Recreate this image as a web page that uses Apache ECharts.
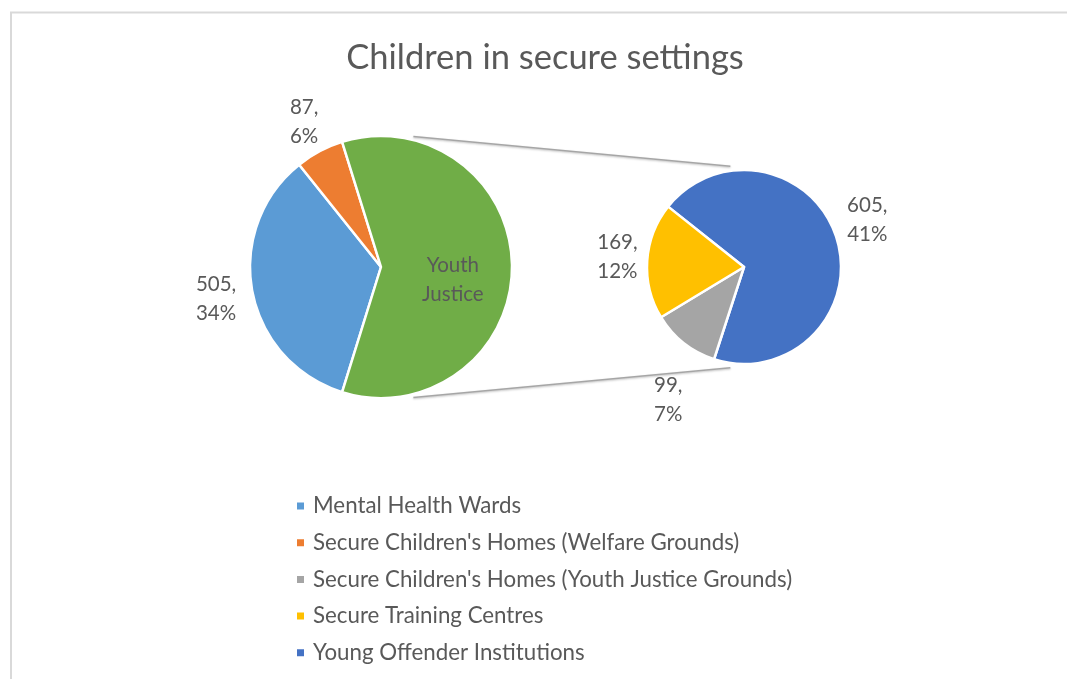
<!DOCTYPE html>
<html><head><meta charset="utf-8">
<script src="https://cdn.jsdelivr.net/npm/echarts@6/dist/echarts.min.js"></script>
<style>html,body{margin:0;padding:0;background:#fff}#c{width:1067px;height:679px}</style>
</head><body><div id="c"></div>
<script>
// ---- data ----
const titleText = 'Children in secure settings';
const mainCategories = ['Mental Health Wards', "Secure Children's Homes (Welfare Grounds)"];
const mainValues = [505, 87];
const otherLabel = 'Youth Justice';
const subCategories = ['Young Offender Institutions', "Secure Children's Homes (Youth Justice Grounds)", 'Secure Training Centres'];
const subValues = [605, 99, 169];
const legendOrder = ['Mental Health Wards', "Secure Children's Homes (Welfare Grounds)", "Secure Children's Homes (Youth Justice Grounds)", 'Secure Training Centres', 'Young Offender Institutions'];

// ---- style / layout ----
const colorMap = {
  'Mental Health Wards': '#5B9BD5',
  "Secure Children's Homes (Welfare Grounds)": '#ED7D31',
  'Youth Justice': '#70AD47',
  "Secure Children's Homes (Youth Justice Grounds)": '#A5A5A5',
  'Secure Training Centres': '#FFC000',
  'Young Offender Institutions': '#4472C4'
};
const FONT = 'Lato, "Open Sans", sans-serif';
const TXT = '#595959';
const MAIN = {cx: 381, cy: 267, r: 131};
const SUB = {cx: 744, cy: 267, r: 97, start: 141.5};
const mainLabelPolar = [[168, 0.3], [164, 0], [73, -10.3]];   // [distance, angle tweak]
const subLabelPolar = [[132, 4.2], [153, 8.7], [127, -0.9]];

// ---- derived ----
const otherValue = subValues.reduce((a, b) => a + b, 0);
const grandTotal = mainValues.reduce((a, b) => a + b, 0) + otherValue;
const mainData = mainCategories.map((n, i) => ({name: n, value: mainValues[i], itemStyle: {color: colorMap[n]}}))
  .concat([{name: otherLabel, value: otherValue, itemStyle: {color: colorMap[otherLabel]}}]);
const subData = subCategories.map((n, i) => ({name: n, value: subValues[i], itemStyle: {color: colorMap[n]}}));
const mainStart = 360 - (otherValue / grandTotal * 360) / 2;

function midAngles(values, start) {
  const tot = values.reduce((a, b) => a + b, 0);
  let a = start; const out = [];
  values.forEach(v => { const sweep = v / tot * 360; out.push(a - sweep / 2); a -= sweep; });
  return out;
}
const mainMids = midAngles(mainData.map(d => d.value), mainStart);
const subMids = midAngles(subValues, SUB.start);

function layoutFn(center, mids, polar) {
  return function (p) {
    const i = p.dataIndex;
    const a = (mids[i] + polar[i][1]) * Math.PI / 180;
    const d = polar[i][0];
    return {x: center.cx + d * Math.cos(a), y: center.cy - d * Math.sin(a), align: 'center', verticalAlign: 'middle'};
  };
}
function valLabel(p) {
  if (p.name === otherLabel) return p.name.replace(' ', '\n');
  return p.value + ',\n' + Math.round(p.value / grandTotal * 100) + '%';
}

// connector lines (external tangents of the two circles)
const dd = SUB.cx - MAIN.cx;
const th = Math.asin((MAIN.r - SUB.r) / dd);
function connector(sign) {
  const n = [Math.sin(th), sign * Math.cos(th)];
  const t1 = [MAIN.cx + MAIN.r * n[0], MAIN.cy + MAIN.r * n[1]];
  const t2 = [SUB.cx + SUB.r * n[0], SUB.cy + SUB.r * n[1]];
  const L = Math.hypot(t2[0] - t1[0], t2[1] - t1[1]);
  const u = [(t2[0] - t1[0]) / L, (t2[1] - t1[1]) / L];
  const off = 2;
  return {
    type: 'line', z: 5,
    shape: {
      x1: t1[0] + 20 * u[0] + off * n[0], y1: t1[1] + 20 * u[1] + off * n[1],
      x2: t2[0] - 23 * u[0] + off * n[0], y2: t2[1] - 23 * u[1] + off * n[1]
    },
    style: {stroke: '#A6A6A6', lineWidth: 1.5, shadowBlur: 2, shadowColor: 'rgba(0,0,0,0.25)', shadowOffsetY: 1}
  };
}

const labelCommon = {position: 'inside', color: TXT, fontSize: 20.5, lineHeight: 29, fontFamily: FONT, formatter: valLabel};

const chart = echarts.init(document.getElementById('c'), null, {renderer: 'canvas'});
chart.setOption({
  backgroundColor: '#fff',
  animation: false,
  title: {
    text: titleText, left: 540, top: 35, textAlign: 'center',
    textStyle: {color: TXT, fontSize: 34.5, fontWeight: 'normal', fontFamily: FONT}
  },
  legend: {
    data: legendOrder, orient: 'vertical', left: 290, top: 490,
    icon: 'rect', itemWidth: 9, itemHeight: 9, itemGap: 14.7,
    textStyle: {color: TXT, fontSize: 22.3, lineHeight: 20, fontFamily: FONT, padding: [0, 0, 0, 3]}
  },
  graphic: [
    {type: 'rect', shape: {x: 11, y: 12.5, width: 1200, height: 800}, style: {fill: 'none', stroke: '#D9D9D9', lineWidth: 2}, silent: true},
    connector(-1),
    connector(1)
  ],
  series: [
    {
      type: 'pie', center: [MAIN.cx, MAIN.cy], radius: [0, MAIN.r],
      startAngle: mainStart, clockwise: true, data: mainData,
      itemStyle: {borderColor: '#fff', borderWidth: 2.5},
      label: labelCommon, labelLine: {show: false},
      labelLayout: layoutFn(MAIN, mainMids, mainLabelPolar),
      emphasis: {disabled: true}, silent: true
    },
    {
      type: 'pie', center: [SUB.cx, SUB.cy], radius: [0, SUB.r],
      startAngle: SUB.start, clockwise: true, data: subData,
      itemStyle: {borderColor: '#fff', borderWidth: 2.5},
      label: labelCommon, labelLine: {show: false},
      labelLayout: layoutFn(SUB, subMids, subLabelPolar),
      emphasis: {disabled: true}, silent: true
    }
  ]
});
</script>
</body></html>
